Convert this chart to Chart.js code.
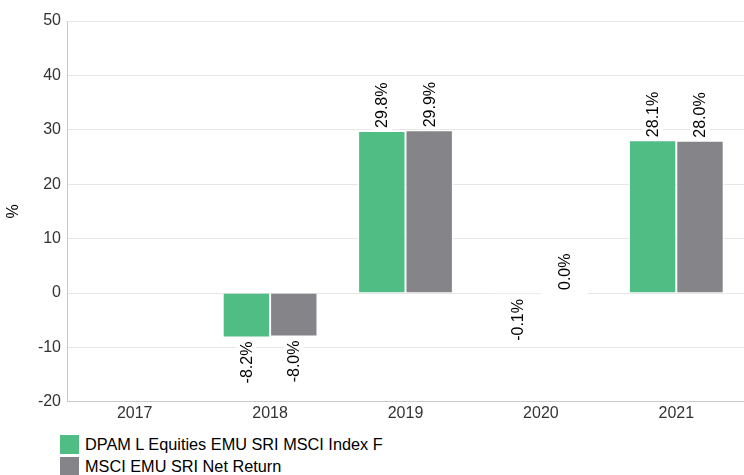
<!DOCTYPE html>
<html>
<head>
<meta charset="utf-8">
<script src="https://cdn.jsdelivr.net/npm/chart.js@4"></script>
<style>
  html, body { margin: 0; padding: 0; background: #fff; }
  body { width: 744px; height: 475px; overflow: hidden; font-family: "Liberation Sans", Arial, sans-serif; }
  #wrap { position: relative; width: 744px; height: 430px; }
  #legend { margin-left: 60px; margin-top: 3px; }
  .item { display: flex; align-items: center; height: 22px; font-size: 16.3px; color: #000; }
  .box { width: 19px; height: 19px; margin-right: 6px; }
</style>
</head>
<body>
<div id="wrap"><canvas id="chart"></canvas></div>
<div id="legend"></div>
<script>
const years = ['2017', '2018', '2019', '2020', '2021'];
const fundName = 'DPAM L Equities EMU SRI MSCI Index F';
const benchName = 'MSCI EMU SRI Net Return';
const fundValues = [null, -8.2, 29.8, -0.1, 28.1];
const benchValues = [null, -8.0, 29.9, 0.0, 28.0];
const yTicks = [-20, -10, 0, 10, 20, 30, 40, 50];

const green = '#50bd85';
const grey = '#858589';
const font = '"Liberation Sans", Arial, sans-serif';

// near-zero bars disappear under their white border, like the original
const fill = color => c => (Math.abs(c.raw) < 0.2 ? '#ffffff' : color);

// rotated value labels with white background
const barLabels = {
    id: 'barLabels',
    afterDatasetsDraw(chart) {
        const ctx = chart.ctx;
        ctx.save();
        ctx.font = '16px ' + font;
        ctx.textBaseline = 'middle';
        const zero = chart.scales.y.getPixelForValue(0);
        chart.data.datasets.forEach((ds, i) => {
            chart.getDatasetMeta(i).data.forEach((bar, j) => {
                const v = ds.data[j];
                if (v === null) return;
                const text = v.toFixed(1) + '%';
                const w = ctx.measureText(text).width;
                const neg = v < 0;
                const y = neg ? Math.max(bar.y, zero) + 4 : Math.min(bar.y, zero) - 3;
                ctx.save();
                ctx.translate(bar.x, y);
                ctx.rotate(-Math.PI / 2);
                ctx.fillStyle = '#fff';
                if (neg) ctx.fillRect(-w - 2, -10, w + 4, 20);
                else ctx.fillRect(-2, -10, w + 4, 20);
                ctx.fillStyle = '#000';
                ctx.textAlign = neg ? 'right' : 'left';
                ctx.fillText(text, 0, 1);
                ctx.restore();
            });
        });
        ctx.restore();
    }
};

new Chart(document.getElementById('chart'), {
    type: 'bar',
    data: {
        labels: years,
        datasets: [
            { label: fundName, data: fundValues, backgroundColor: fill(green) },
            { label: benchName, data: benchValues, backgroundColor: fill(grey) }
        ]
    },
    options: {
        responsive: true,
        maintainAspectRatio: false,
        animation: false,
        layout: { padding: { top: 21, right: 0, bottom: 5 } },
        datasets: {
            bar: {
                borderColor: '#ffffff',
                borderWidth: 1,
                categoryPercentage: 0.7,
                barPercentage: 1,
                minBarLength: 2
            }
        },
        plugins: {
            legend: { display: false },
            tooltip: { enabled: false }
        },
        scales: {
            x: {
                grid: { display: false, drawTicks: false },
                border: { color: '#c8c8c8' },
                ticks: { color: '#333', font: { size: 16, family: font }, padding: 2 }
            },
            y: {
                min: -20,
                max: 50,
                afterBuildTicks: axis => { axis.ticks = yTicks.map(v => ({ value: v })); },
                grid: { color: '#e6e6e6', drawTicks: false },
                border: { color: '#c8c8c8' },
                ticks: { color: '#333', padding: 6, font: { size: 16, family: font } },
                title: { display: true, text: '%', color: '#000', font: { size: 16, family: font }, padding: 4 },
                afterFit: axis => { axis.width = 67; }
            }
        }
    },
    plugins: [barLabels]
});

const legend = document.getElementById('legend');
[[fundName, green], [benchName, grey]].forEach(([name, color]) => {
    const row = document.createElement('div');
    row.className = 'item';
    row.innerHTML = `<span class="box" style="background:${color}"></span><span>${name}</span>`;
    legend.appendChild(row);
});
</script>
</body>
</html>
